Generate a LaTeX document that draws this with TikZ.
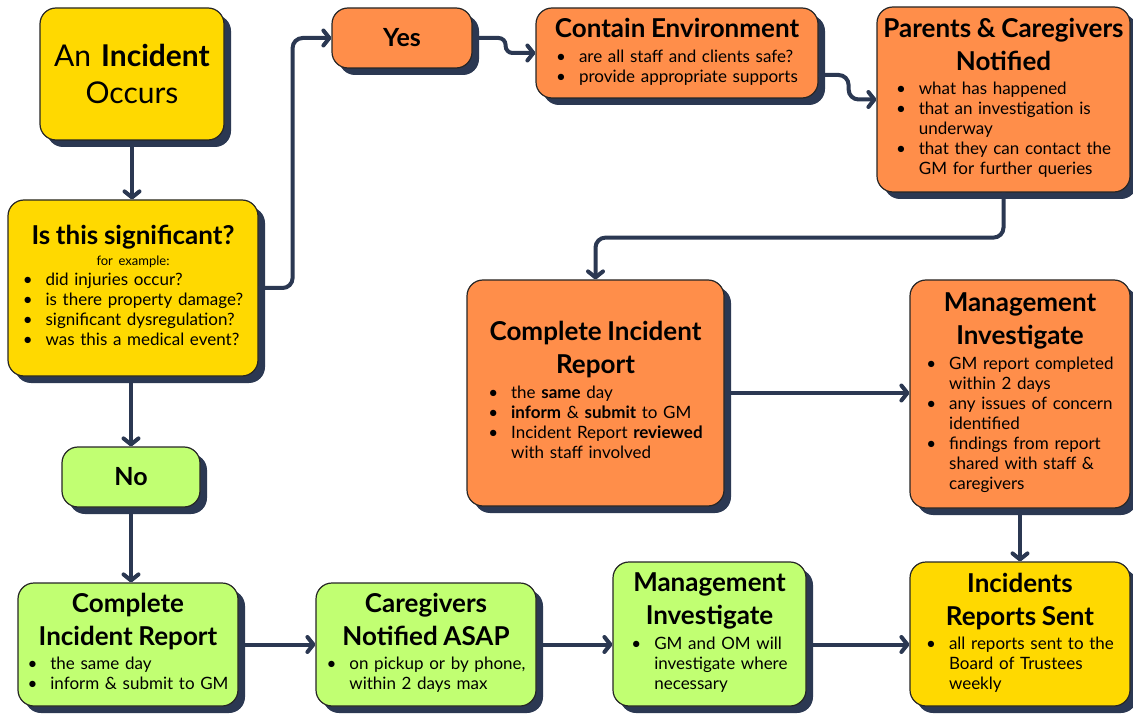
\documentclass[tikz,border=0pt]{standalone}
\usepackage{fontspec}
\setmainfont{Lato}
\usepackage{xcolor}
\usetikzlibrary{arrows.meta, positioning, shadows, calc}

\definecolor{boxyellow}{HTML}{FFD900}
\definecolor{boxorange}{HTML}{FF8E4A}
\definecolor{boxgreen}{HTML}{C1FF72}
\definecolor{navy}{HTML}{2B3852}

\newcommand{\bodyfont}{\fontsize{17}{20}\selectfont\mdseries}
\newcommand{\ttlfont}{\fontsize{26}{33}\selectfont\bfseries}
\newcommand{\bul}{\textbullet}
\newcommand{\blist}[1]{\begin{tabular}[t]{@{}c@{\hspace{13pt}}l@{}}#1\end{tabular}}

\begin{document}
\begin{tikzpicture}[
    x=1pt, y=-1pt,
    card/.style={draw=black!85, line width=1.2pt, rounded corners=16pt, align=center,
                 inner sep=0pt, font=\bodyfont,
                 drop shadow={shadow xshift=7pt, shadow yshift=-7pt, fill=navy, opacity=1}},
    yellowcard/.style={card, fill=boxyellow},
    orangecard/.style={card, fill=boxorange},
    greencard/.style={card, fill=boxgreen},
    answer/.style={font=\fontsize{25}{28}\selectfont\bfseries},
    flow/.style={line width=4pt, draw=navy, rounded corners=10pt,
                 -{Straight Barb[length=6pt, width=15pt, round]}}
]
\useasboundingbox (0,0) rectangle (1133,714);

% left column
\node[yellowcard, minimum width=184, minimum height=132, text width=176,
      font=\fontsize{30}{37}\selectfont] (incident) at (132,74) {An \textbf{Incident}\\Occurs};
\node[yellowcard, minimum width=250, minimum height=176, text width=244] (signif) at (133,288)
  {\fontsize{26}{26}\selectfont\bfseries Is this significant?\\
   \fontsize{13}{21}\selectfont\mdseries for example:\\
   \bodyfont\blist{\bul & did injuries occur?\\ \bul & is there property damage?\\
                   \bul & significant dysregulation?\\ \bul & was this a medical event?}};
\node[greencard, answer, minimum width=138, minimum height=60] (no) at (131,477) {No};

% top row
\node[orangecard, answer, minimum width=140, minimum height=60] (yes) at (402,38) {Yes};
\node[orangecard, minimum width=282, minimum height=90, text width=276] (contain) at (677,53)
  {\ttlfont Contain Environment\\[5pt]
   \bodyfont\blist{\bul & are all staff and clients safe?\\ \bul & provide appropriate supports}};
\node[orangecard, minimum width=253, minimum height=185, text width=250] (parents) at (1003.5,99.5)
  {\ttlfont Parents \& Caregivers\\Notified\\[4pt]
   \bodyfont\blist{\bul & what has happened\\ \bul & that an investigation is\\ & underway\\
                   \bul & that they can contact the\\ & GM for further queries}};

% middle row
\node[orangecard, minimum width=257, minimum height=226, text width=250] (report) at (595.5,393)
  {\ttlfont Complete Incident\\Report\\[5pt]
   \bodyfont\blist{\bul & the \textbf{same} day\\ \bul & \textbf{inform} \& \textbf{submit} to GM\\
                   \bul & Incident Report \textbf{reviewed}\\ & with staff involved}};
\node[orangecard, minimum width=220, minimum height=228, text width=214] (review) at (1020,394)
  {\ttlfont Management\\Investigate\\[5pt]
   \bodyfont\blist{\bul & GM report completed\\ & within 2 days\\ \bul & any issues of concern\\
                   & identified\\ \bul & findings from report\\ & shared with staff \&\\ & caregivers}};

% bottom row
\node[greencard, minimum width=220, minimum height=123, text width=214] (report2) at (128,644.5)
  {\ttlfont Complete\\Incident Report\\[4pt]
   \bodyfont\blist{\bul & the same day\\ \bul & inform \& submit to GM}};
\node[greencard, minimum width=220, minimum height=123, text width=214] (notify) at (426,644.5)
  {\ttlfont Caregivers\\Notified ASAP\\[4pt]
   \bodyfont\blist{\bul & on pickup or by phone,\\ & within 2 days max}};
\node[greencard, minimum width=193, minimum height=144, text width=188] (invest) at (709.5,634)
  {\ttlfont Management\\Investigate\\[5pt]
   \bodyfont\blist{\bul & GM and OM will\\ & investigate where\\ & necessary}};
\node[yellowcard, minimum width=220, minimum height=144, text width=214] (sent) at (1020,634)
  {\ttlfont Incidents\\Reports Sent\\[4pt]
   \bodyfont\blist{\bul & all reports sent to the\\ & Board of Trustees\\ & weekly}};

% connectors
\draw[flow] (incident.south) -- (incident.south |- signif.north);
\draw[flow] (signif.east) -- ++(34,0) |- (yes.west);
\draw[flow, rounded corners=7pt] (yes.east) -- ++(33,0) |- (contain.west);
\draw[flow] ([yshift=-22pt]contain.east) -- ++(30,0) |- (parents.west);
\draw[flow] (parents.south) -- ++(0,45) -| (report.north);
\draw[flow] (report.east) -- (report.east -| review.west);
\draw[flow] (review.south) -- (sent.north);
\draw[flow] (signif.south -| no.north) -- (no.north);
\draw[flow] (no.south) -- (no.south |- report2.north);
\draw[flow] (report2.east) -- (notify.west);
\draw[flow] (notify.east) -- (notify.east -| invest.west);
\draw[flow] (notify.east -| invest.east) -- (notify.east -| sent.west);
\end{tikzpicture}
\end{document}
